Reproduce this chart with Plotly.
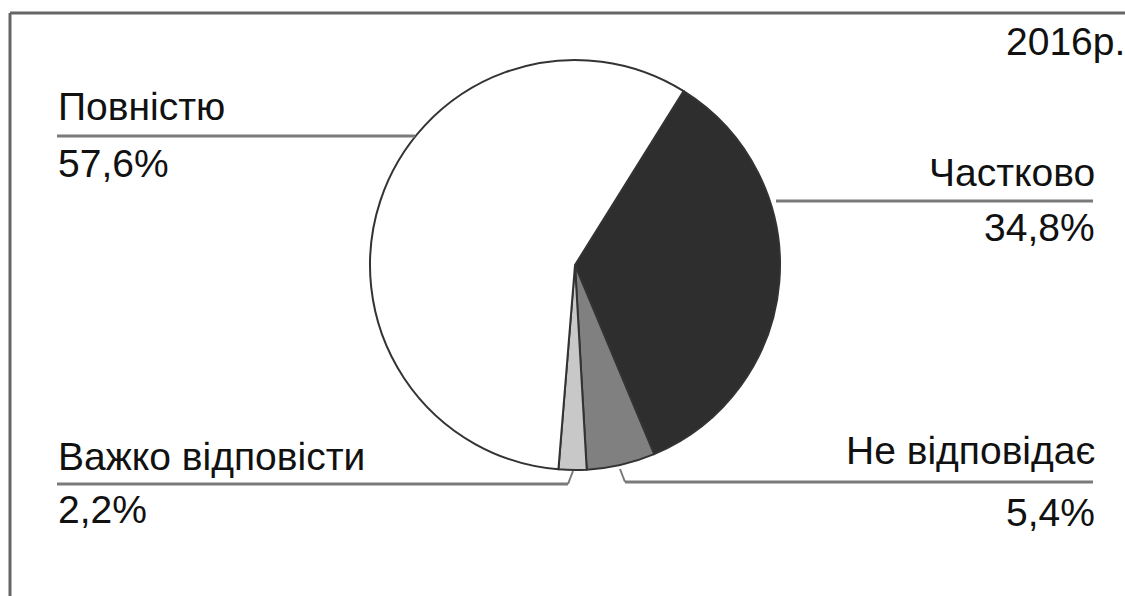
import plotly.graph_objects as go

# Data
labels = ["Частково", "Не відповідає", "Важко відповісти", "Повністю"]
values = [34.8, 5.4, 2.2, 57.6]
value_text = ["34,8%", "5,4%", "2,2%", "57,6%"]
colors = ["#2e2e2e", "#808080", "#c8c8c8", "#ffffff"]
year_label = "2016р."

W, H = 1125, 596


def px(x):
    return x / W


def py(y):
    return 1 - y / H


cx, cy, r = 575, 265, 205

fig = go.Figure(
    go.Pie(
        labels=labels,
        values=values,
        sort=False,
        direction="clockwise",
        rotation=32,
        marker=dict(colors=colors, line=dict(color="#333333", width=2)),
        textinfo="none",
        hoverinfo="label+percent",
        showlegend=False,
        domain=dict(x=[px(cx - r), px(cx + r)], y=[py(cy + r), py(cy - r)]),
    )
)

FONT = "Liberation Sans, Arial, sans-serif"
FS = 39

annotations = []


def add_text(text, x, y, xanchor):
    annotations.append(
        dict(
            text=text, x=px(x), y=py(y), xref="paper", yref="paper",
            xanchor=xanchor, yanchor="middle", showarrow=False,
            font=dict(family=FONT, size=FS, color="#111111"),
        )
    )


# label positions (left/right label blocks)
add_text(labels[3], 56, 106, "left")
add_text(value_text[3], 56, 163, "left")
add_text(labels[0], 1097, 172, "right")
add_text(value_text[0], 1097, 227, "right")
add_text(labels[2], 56, 456, "left")
add_text(value_text[2], 56, 509, "left")
add_text(labels[1], 1097, 450, "right")
add_text(value_text[1], 1097, 512, "right")
add_text(year_label, 1127, 41, "right")

shapes = []


def seg(x0, y0, x1, y1, color="#7a7a7a", width=3):
    shapes.append(
        dict(type="line", xref="paper", yref="paper",
             x0=px(x0), y0=py(y0), x1=px(x1), y1=py(y1),
             line=dict(color=color, width=width))
    )


# leader lines
seg(57, 136, 415, 136)
seg(776, 201, 1093, 201)
seg(57, 484, 568, 484)
seg(568, 484, 573, 471, width=2)
seg(620, 469, 625, 482, width=2)
seg(625, 482, 1093, 482)
# frame
seg(10, 13, 1125, 13, color="#666666", width=3)
seg(10, 13, 10, 596, color="#666666", width=3)

fig.update_layout(
    width=W, height=H,
    margin=dict(l=0, r=0, t=0, b=0),
    paper_bgcolor="white", plot_bgcolor="white",
    annotations=annotations, shapes=shapes,
)

fig.write_html(
    "out.html",
    config={"displayModeBar": False},
    post_script="document.body.style.margin='0';document.body.style.overflow='hidden';",
)
